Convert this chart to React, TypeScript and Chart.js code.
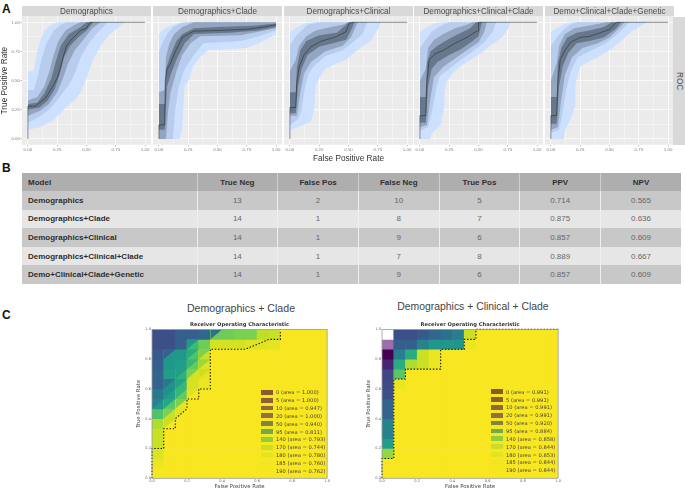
import React, { useEffect, useRef } from "react";
import { Chart, registerables } from "chart.js";

Chart.register(...registerables);

type Pt = [number, number];

/* ---------- Panel A: ROC curves with nested bands ---------- */
const rocTitles = ["Demographics", "Demographics+Clade", "Demographics+Clinical", "Demographics+Clinical+Clade", "Demo+Clinical+Clade+Genetic"];
const rocTickValues = [0, 0.125, 0.25, 0.375, 0.5, 0.625, 0.75, 0.875, 1];

const demoMedian: Pt[] = [[0,0],[0,.28],[.06,.28],[.1,.31],[.15,.35],[.2,.43],[.25,.52],[.28,.62],[.3,.7],[.33,.8],[.38,.86],[.45,.93],[.5,.95],[.53,1],[1,1]];
const demoOuterU: Pt[] = [[0,.58],[.05,.58],[.08,.75],[.1,.82],[.14,.93],[.2,.98],[.25,1],[1,1]];
const demoOuterL: Pt[] = [[0,.08],[.1,.1],[.2,.15],[.28,.22],[.32,.27],[.4,.33],[.45,.4],[.5,.52],[.55,.67],[.62,.8],[.7,.9],[.78,.96],[.82,1],[1,1]];
const demoMidU: Pt[] = [[0,.42],[.05,.42],[.08,.52],[.12,.7],[.16,.82],[.22,.93],[.28,.98],[.33,1],[1,1]];
const demoMidL: Pt[] = [[0,.14],[.1,.19],[.18,.25],[.25,.33],[.3,.4],[.35,.46],[.4,.56],[.45,.7],[.52,.82],[.6,.92],[.68,1],[1,1]];
const demoInnerU: Pt[] = [[0,.33],[.08,.36],[.14,.45],[.18,.57],[.22,.72],[.26,.84],[.32,.93],[.4,.98],[.45,1],[1,1]];
const demoInnerL: Pt[] = [[0,.2],[.1,.24],[.18,.3],[.25,.4],[.3,.52],[.34,.64],[.4,.76],[.48,.86],[.55,.95],[.62,1],[1,1]];
const demoCoreU: Pt[] = [[0,.3],[.08,.31],[.14,.39],[.2,.52],[.24,.67],[.28,.8],[.35,.9],[.45,.96],[.5,1],[1,1]];
const demoCoreL: Pt[] = [[0,.25],[.1,.27],[.17,.33],[.23,.43],[.27,.55],[.31,.7],[.36,.8],[.44,.88],[.5,.93],[.56,1],[1,1]];

const cladeMedian: Pt[] = [[0,0],[0,.12],[.05,.12],[.055,.5],[.07,.6],[.1,.65],[.14,.75],[.2,.87],[.25,.9],[.3,.925],[.5,.93],[.75,.94],[.9,.96],[1,.98]];
const cladeOuterU: Pt[] = [[0,.9],[.03,.93],[.07,.96],[.12,.98],[.2,1],[1,1]];
const cladeOuterL: Pt[] = [[0,0],[.18,0],[.2,.1],[.21,.3],[.22,.45],[.26,.51],[.29,.62],[.35,.7],[.42,.76],[.75,.78],[.85,.82],[.95,.87],[1,.9]];
const cladeMidU: Pt[] = [[0,.75],[.03,.82],[.07,.9],[.12,.96],[.18,.99],[.25,1],[1,1]];
const cladeMidL: Pt[] = [[0,0],[.12,0],[.14,.25],[.17,.45],[.22,.6],[.3,.72],[.38,.82],[.7,.84],[.85,.88],[1,.93]];
const cladeInnerU: Pt[] = [[0,.4],[.05,.42],[.06,.7],[.09,.82],[.13,.9],[.2,.96],[.3,1],[1,1]];
const cladeInnerL: Pt[] = [[0,0],[.06,0],[.08,.25],[.1,.4],[.15,.58],[.2,.72],[.27,.82],[.35,.88],[.7,.89],[.85,.92],[1,.95]];
const cladeCoreU: Pt[] = [[0,.3],[.05,.3],[.06,.6],[.1,.72],[.15,.84],[.2,.9],[.3,.95],[.5,.96],[.8,.97],[1,.99]];
const cladeCoreL: Pt[] = [[0,.08],[.05,.08],[.07,.45],[.1,.55],[.15,.68],[.22,.82],[.3,.9],[.6,.91],[.85,.93],[1,.96]];

const clinMedian: Pt[] = [[0,0],[0,.27],[.05,.27],[.06,.5],[.08,.62],[.12,.72],[.18,.79],[.27,.84],[.38,.87],[.48,.92],[.5,.98],[.53,1],[1,1]];
const clinOuterU: Pt[] = [[0,.92],[.05,.95],[.12,.99],[.2,1],[1,1]];
const clinOuterL: Pt[] = [[0,.07],[.07,.1],[.18,.15],[.21,.27],[.22,.45],[.25,.52],[.3,.6],[.38,.64],[.48,.68],[.6,.78],[.7,.85],[.76,.96],[.77,1],[1,1]];
const clinMidU: Pt[] = [[0,.8],[.05,.88],[.1,.93],[.15,.98],[.25,1],[1,1]];
const clinMidL: Pt[] = [[0,.12],[.07,.17],[.1,.25],[.13,.45],[.16,.56],[.2,.62],[.3,.71],[.45,.76],[.55,.84],[.62,.9],[.66,1],[1,1]];
const clinInnerU: Pt[] = [[0,.58],[.05,.68],[.08,.8],[.14,.88],[.22,.93],[.35,.96],[.45,.98],[.5,1],[1,1]];
const clinInnerL: Pt[] = [[0,.2],[.06,.2],[.09,.4],[.12,.56],[.18,.66],[.3,.75],[.45,.8],[.52,.87],[.58,1],[1,1]];
const clinCoreU: Pt[] = [[0,.4],[.05,.4],[.06,.62],[.09,.76],[.14,.84],[.25,.89],[.4,.91],[.47,.97],[.5,1],[1,1]];
const clinCoreL: Pt[] = [[0,.22],[.05,.22],[.07,.45],[.1,.6],[.15,.72],[.25,.79],[.4,.83],[.48,.85],[.53,.95],[.55,1],[1,1]];

const allMedian: Pt[] = [[0,0],[0,.2],[.05,.2],[.06,.5],[.08,.68],[.13,.73],[.2,.76],[.3,.82],[.4,.87],[.46,.91],[.5,.93],[.5,1],[1,1]];
const allOuterU: Pt[] = [[0,.92],[.05,.95],[.12,.99],[.2,1],[1,1]];
const allOuterL: Pt[] = [[0,0],[.09,0],[.1,.05],[.18,.12],[.21,.3],[.21,.4],[.23,.49],[.27,.55],[.33,.61],[.4,.66],[.5,.72],[.6,.8],[.7,.87],[.76,.96],[.77,1],[1,1]];
const allMidU: Pt[] = [[0,.78],[.05,.85],[.1,.92],[.16,.96],[.25,1],[1,1]];
const allMidL: Pt[] = [[0,.07],[.07,.1],[.1,.22],[.14,.43],[.17,.54],[.25,.6],[.35,.68],[.45,.75],[.55,.83],[.62,.92],[.65,1],[1,1]];
const allInnerU: Pt[] = [[0,.5],[.05,.6],[.07,.78],[.12,.85],[.2,.9],[.3,.95],[.4,.98],[.45,1],[1,1]];
const allInnerL: Pt[] = [[0,.1],[.06,.12],[.09,.35],[.12,.53],[.2,.62],[.3,.69],[.4,.76],[.5,.83],[.55,.92],[.57,1],[1,1]];
const allCoreU: Pt[] = [[0,.36],[.05,.36],[.06,.65],[.09,.75],[.15,.8],[.25,.86],[.35,.91],[.43,.95],[.48,1],[1,1]];
const allCoreL: Pt[] = [[0,.14],[.05,.14],[.07,.45],[.1,.6],[.15,.66],[.25,.72],[.35,.77],[.45,.84],[.5,.88],[.53,1],[1,1]];

const geneMedian: Pt[] = [[0,0],[0,.2],[.05,.2],[.06,.5],[.08,.68],[.12,.76],[.17,.83],[.25,.87],[.33,.88],[.42,.91],[.5,.94],[.56,1],[1,1]];
const geneOuterU: Pt[] = [[0,.92],[.05,.95],[.12,.99],[.18,1],[1,1]];
const geneOuterL: Pt[] = [[0,0],[.11,0],[.12,.07],[.18,.2],[.21,.3],[.21,.47],[.25,.62],[.3,.65],[.4,.7],[.5,.76],[.6,.84],[.7,.93],[.82,1],[1,1]];
const geneMidU: Pt[] = [[0,.8],[.05,.87],[.1,.93],[.16,.98],[.22,1],[1,1]];
const geneMidL: Pt[] = [[0,.05],[.07,.08],[.1,.22],[.13,.42],[.17,.58],[.23,.7],[.35,.76],[.47,.82],[.57,.9],[.67,1],[1,1]];
const geneInnerU: Pt[] = [[0,.5],[.05,.65],[.07,.8],[.12,.9],[.2,.95],[.32,.97],[.42,.99],[.47,1],[1,1]];
const geneInnerL: Pt[] = [[0,.08],[.06,.1],[.09,.35],[.12,.55],[.18,.7],[.27,.78],[.4,.82],[.5,.87],[.58,.95],[.63,1],[1,1]];
const geneCoreU: Pt[] = [[0,.36],[.05,.36],[.06,.65],[.09,.78],[.14,.87],[.22,.91],[.33,.93],[.45,.96],[.52,1],[1,1]];
const geneCoreL: Pt[] = [[0,.13],[.05,.13],[.07,.45],[.1,.62],[.15,.74],[.22,.82],[.33,.84],[.45,.87],[.55,.94],[.6,1],[1,1]];

const rocMedians = [demoMedian, cladeMedian, clinMedian, allMedian, geneMedian];
const rocBands: Pt[][][] = [
  [demoCoreU, demoCoreL, demoInnerU, demoInnerL, demoMidU, demoMidL, demoOuterU, demoOuterL],
  [cladeCoreU, cladeCoreL, cladeInnerU, cladeInnerL, cladeMidU, cladeMidL, cladeOuterU, cladeOuterL],
  [clinCoreU, clinCoreL, clinInnerU, clinInnerL, clinMidU, clinMidL, clinOuterU, clinOuterL],
  [allCoreU, allCoreL, allInnerU, allInnerL, allMidU, allMidL, allOuterU, allOuterL],
  [geneCoreU, geneCoreL, geneInnerU, geneInnerL, geneMidU, geneMidL, geneOuterU, geneOuterL],
];
const bandColors = ["#67788c", "#93a5c0", "#b8cdee", "#cde1ff"];

/* ---------- Panel B: table ---------- */
const tableHeader = ["Model", "True Neg", "False Pos", "False Neg", "True Pos", "PPV", "NPV"];
const tableRows = [
  ["Demographics", "13", "2", "10", "5", "0.714", "0.565"],
  ["Demographics+Clade", "14", "1", "8", "7", "0.875", "0.636"],
  ["Demographics+Clinical", "14", "1", "9", "6", "0.857", "0.609"],
  ["Demographics+Clinical+Clade", "14", "1", "7", "8", "0.889", "0.667"],
  ["Demo+Clinical+Clade+Genetic", "14", "1", "9", "6", "0.857", "0.609"],
];

/* ---------- Panel C: heat maps ---------- */
const thresholdCount = 15;
const cladeHeat = [
  [24,24,30,30,33,78,78,80,80,90,92,100,100,100,100],
  [24,24,30,68,78,94,94,94,96,96,97,100,100,100,100],
  [28,52,52,72,92,100,100,100,100,100,100,100,100,100,100],
  [30,52,55,76,96,100,100,100,100,100,100,100,100,100,100],
  [32,55,64,94,97,100,100,100,100,100,100,100,100,100,100],
  [32,50,66,94,98,100,100,100,100,100,100,100,100,100,100],
  [40,56,76,100,100,100,100,100,100,100,100,100,100,100,100],
  [52,74,97,100,100,100,100,100,100,100,100,100,100,100,100],
  [72,92,100,100,100,100,100,100,100,100,100,100,100,100,100],
  [88,100,100,100,100,100,100,100,100,100,100,100,100,100,100],
  [92,100,100,100,100,100,100,100,100,100,100,100,100,100,100],
  [92,100,100,100,100,100,100,100,100,100,100,100,100,100,100],
  [95,100,100,100,100,100,100,100,100,100,100,100,100,100,100],
  [98,100,100,100,100,100,100,100,100,100,100,100,100,100,100],
  [100,100,100,100,100,100,100,100,100,100,100,100,100,100,100],
];
/* [row, column, value of the cell's upper-left half] */
const cladeDiagonals: number[][] = [
  [0,5,36],[1,3,52],[2,1,30],[2,3,62],[2,4,80],[3,3,66],[3,4,85],[4,2,56],[4,3,80],[4,4,92],
  [5,1,40],[5,2,58],[6,1,50],[6,2,66],[6,3,95],[7,0,44],[7,1,60],[7,2,80],[8,1,80],[8,2,96],[9,1,92],
];
const clinCladeHeat = [
  [-2,24,24,28,33,36,42,92,100,100,100,100,100,100,100],
  [-1,30,30,44,52,52,52,98,100,100,100,100,100,100,100],
  [0,42,62,92,98,100,100,100,100,100,100,100,100,100,100],
  [10,62,88,92,98,100,100,100,100,100,100,100,100,100,100],
  [20,74,100,100,100,100,100,100,100,100,100,100,100,100,100],
  [22,98,100,100,100,100,100,100,100,100,100,100,100,100,100],
  [24,100,100,100,100,100,100,100,100,100,100,100,100,100,100],
  [32,100,100,100,100,100,100,100,100,100,100,100,100,100,100],
  [32,100,100,100,100,100,100,100,100,100,100,100,100,100,100],
  [44,100,100,100,100,100,100,100,100,100,100,100,100,100,100],
  [44,100,100,100,100,100,100,100,100,100,100,100,100,100,100],
  [55,100,100,100,100,100,100,100,100,100,100,100,100,100,100],
  [84,100,100,100,100,100,100,100,100,100,100,100,100,100,100],
  [100,100,100,100,100,100,100,100,100,100,100,100,100,100,100],
  [100,100,100,100,100,100,100,100,100,100,100,100,100,100,100],
];
const noDiagonals: number[][] = [];
const cladeBoundary: Pt[] = [[0,0],[0,.2],[.067,.2],[.067,.333],[.133,.333],[.133,.4],[.2,.467],[.2,.533],[.267,.533],[.267,.6],[.333,.6],[.333,.867],[.533,.867],[.6,.9],[.667,.933],[.733,.933],[.733,1]];
const clinCladeBoundary: Pt[] = [[0,0],[0,.133],[.067,.133],[.067,.667],[.133,.667],[.133,.733],[.333,.733],[.333,.867],[.467,.867],[.467,.933],[.533,.933],[.533,1],[1,1]];
const thresholds = ["0", "5", "10", "20", "50", "95", "140", "170", "180", "185", "190"];
const cladeAreas = ["1.000", "1.000", "0.947", "1.000", "0.940", "0.811", "0.793", "0.744", "0.780", "0.760", "0.762"];
const clinCladeAreas = ["0.991", "0.991", "0.991", "0.991", "0.920", "0.884", "0.858", "0.844", "0.853", "0.844", "0.844"];
const legendSwatches = ["#8a5a2b", "#8c6030", "#8f6a38", "#8f7040", "#808440", "#6fa950", "#8fcf3f", "#cbdd24", "#e3e31f", "#f0e720", "#f8e620"];

const viridisStops = ["#440154", "#482475", "#414487", "#355f8d", "#2a788e", "#21918c", "#22a884", "#44bf70", "#7ad151", "#bddf26", "#f8e620"];
function viridis(v: number): string {
  if (v === -2) return "#ffffff";
  if (v === -1) return "#9b6fa9";
  const p = Math.min(9.999, v / 10);
  const i = Math.floor(p);
  const t = p - i;
  const a = parseInt(viridisStops[i].slice(1), 16);
  const b = parseInt(viridisStops[i + 1].slice(1), 16);
  const ch = (s: number) => Math.round(((a >> s) & 255) * (1 - t) + ((b >> s) & 255) * t);
  return `rgb(${ch(16)},${ch(8)},${ch(0)})`;
}

const SANS = "'Liberation Sans', Arial, sans-serif";
const DEJA = "'DejaVu Sans', sans-serif";

const stripPlugin = {
  id: "strip",
  beforeDraw(chart: any) {
    const { ctx, chartArea: a } = chart;
    ctx.save();
    ctx.fillStyle = "#d9d9d9";
    ctx.fillRect(a.left, 0, a.right - a.left, a.top);
    ctx.fillStyle = "#ebebeb";
    ctx.fillRect(a.left, a.top, a.right - a.left, a.bottom - a.top);
    ctx.restore();
  },
};

const framePlugin = {
  id: "frame",
  afterDraw(chart: any) {
    const { ctx, chartArea: a } = chart;
    ctx.save();
    ctx.strokeStyle = "#9a9a9a";
    ctx.lineWidth = 0.8;
    ctx.strokeRect(a.left, a.top, a.right - a.left, a.bottom - a.top);
    ctx.restore();
  },
};

function toXY(pts: Pt[]) {
  return pts.map(([x, y]) => ({ x, y }));
}

function RocPanel({ index, left, width, yAxisWidth }: { index: number; left: number; width: number; yAxisWidth: number }) {
  const ref = useRef<HTMLCanvasElement>(null);
  useEffect(() => {
    const isMajor = (v: number) => Math.abs(v * 4 - Math.round(v * 4)) < 1e-6;
    const datasets: any[] = [
      { data: toXY(rocMedians[index]), showLine: true, borderColor: "rgba(30,30,30,0.62)", borderWidth: 0.8, pointRadius: 0, fill: false, tension: 0 },
    ];
    rocBands[index].forEach((pts, i) => {
      const isUpper = i % 2 === 0;
      datasets.push({
        data: toXY(pts),
        showLine: true,
        borderWidth: 0,
        borderColor: "transparent",
        pointRadius: 0,
        tension: 0,
        fill: isUpper ? "+1" : false,
        backgroundColor: bandColors[i >> 1],
      });
    });
    const chart = new Chart(ref.current as any, {
      type: "scatter",
      data: { datasets },
      plugins: [stripPlugin],
      options: {
        responsive: false,
        animation: false,
        layout: { padding: 0 },
        plugins: {
          legend: { display: false },
          tooltip: { enabled: false },
          title: {
            display: true,
            text: rocTitles[index],
            fullSize: false,
            color: "#4d4d4d",
            padding: 0,
            font: { family: SANS, size: 8.2, weight: "normal", lineHeight: 1.28 },
          },
        },
        scales: {
          x: {
            type: "linear",
            min: -0.05,
            max: 1.05,
            afterBuildTicks: (s: any) => { s.ticks = rocTickValues.map((value) => ({ value })); },
            afterFit: (s: any) => { s.height = 19.2; },
            border: { display: false },
            grid: {
              color: "#ffffff",
              lineWidth: (c: any) => (isMajor(c.tick?.value ?? 0) ? 0.7 : 0.35),
              tickColor: (c: any) => (isMajor(c.tick?.value ?? 0) ? "#555" : "transparent"),
              tickLength: 1.5,
              tickWidth: 0.4,
            },
            ticks: {
              autoSkip: false,
              maxRotation: 0,
              minRotation: 0,
              padding: 0.5,
              color: "#808080",
              font: { family: SANS, size: 4.4 },
              callback: (v: any) => (isMajor(+v) ? (+v).toFixed(2) : ""),
            },
            title: {
              display: index === 2,
              text: "False Positive Rate",
              color: "#333",
              padding: 0,
              font: { family: SANS, size: 8.25, lineHeight: 1.2 },
            },
          },
          y: {
            type: "linear",
            min: -0.05,
            max: 1.05,
            afterBuildTicks: (s: any) => { s.ticks = rocTickValues.map((value) => ({ value })); },
            afterFit: (s: any) => { s.width = yAxisWidth; },
            border: { display: false },
            grid: {
              color: "#ffffff",
              lineWidth: (c: any) => (isMajor(c.tick?.value ?? 0) ? 0.7 : 0.35),
              tickColor: (c: any) => (isMajor(c.tick?.value ?? 0) ? "#555" : "transparent"),
              tickLength: yAxisWidth > 0 ? 1.5 : 0,
              tickWidth: 0.4,
            },
            ticks: {
              display: yAxisWidth > 0,
              autoSkip: false,
              padding: 0.5,
              color: "#808080",
              font: { family: SANS, size: 4.4 },
              callback: (v: any) => (isMajor(+v) ? (+v).toFixed(2) : ""),
            },
            title: {
              display: yAxisWidth > 0,
              text: "True Positive Rate",
              color: "#333",
              padding: 0,
              font: { family: SANS, size: 8.25, lineHeight: 1.2 },
            },
          },
        },
      },
    } as any);
    return () => chart.destroy();
  }, [index, yAxisWidth]);
  return (
    <canvas
      ref={ref}
      width={width}
      height={158}
      style={{ position: "absolute", left, top: 6, width, height: 158, display: "block" }}
    />
  );
}

function HeatPanel({ matrix, diagonals, boundary, left, plotWidth }: { matrix: number[][]; diagonals: number[][]; boundary: Pt[]; left: number; plotWidth: number }) {
  const ref = useRef<HTMLCanvasElement>(null);
  useEffect(() => {
    const step = 1 / thresholdCount;
    const datasets: any[] = [
      {
        type: "scatter",
        data: toXY(boundary),
        showLine: true,
        borderColor: "#111",
        borderWidth: 1.1,
        borderDash: [1.4, 1.8],
        pointRadius: 0,
        tension: 0,
        fill: false,
        order: 0,
        clip: false,
      },
    ];
    diagonals.forEach(([r, c, v]) => {
      const hi = 1 - r * step;
      const lo = 1 - (r + 1) * step;
      const x0 = c * step;
      const x1 = (c + 1) * step;
      const common = { type: "scatter", showLine: true, borderWidth: 0, borderColor: "transparent", pointRadius: 0, tension: 0, order: 1 };
      datasets.push({ ...common, data: [{ x: x0, y: hi }, { x: x1, y: hi }], fill: "+1", backgroundColor: viridis(v) });
      datasets.push({ ...common, data: [{ x: x0, y: lo }, { x: x1, y: hi }], fill: false });
    });
    matrix.forEach((row, r) => {
      const hi = 1 - r * step;
      const lo = 1 - (r + 1) * step;
      datasets.push({
        type: "bar",
        order: 2,
        grouped: false,
        barPercentage: 1,
        categoryPercentage: 1,
        borderWidth: 0,
        backgroundColor: row.map(viridis),
        data: row.map((_, c) => ({ x: (c + 0.5) * step, y: [lo, hi] })),
      });
    });
    const chart = new Chart(ref.current as any, {
      type: "bar",
      data: { datasets },
      plugins: [framePlugin],
      options: {
        responsive: false,
        animation: false,
        layout: { padding: { right: 1 } },
        plugins: {
          legend: { display: false },
          tooltip: { enabled: false },
          title: {
            display: true,
            text: "Receiver Operating Characteristic",
            fullSize: false,
            color: "#333",
            padding: 0,
            font: { family: DEJA, size: 5.2, weight: "bold", lineHeight: 2 },
          },
        },
        scales: {
          x: {
            type: "linear",
            min: 0,
            max: 1,
            offset: false,
            afterFit: (s: any) => { s.height = 11.7; },
            border: { display: false },
            grid: { display: false, drawTicks: false },
            ticks: { stepSize: 0.2, padding: 1, color: "#666", maxRotation: 0, font: { family: DEJA, size: 3.6 }, callback: (v: any) => (+v).toFixed(1) },
            title: { display: true, text: "False Positive Rate", color: "#444", padding: 0, font: { family: DEJA, size: 5.4, lineHeight: 1.1 } },
          },
          y: {
            type: "linear",
            min: 0,
            max: 1,
            afterFit: (s: any) => { s.width = 22; },
            border: { display: false },
            grid: { display: false, drawTicks: false },
            ticks: { stepSize: 0.2, padding: 1, color: "#666", font: { family: DEJA, size: 3.6 }, callback: (v: any) => (+v).toFixed(1) },
            title: { display: true, text: "True Positive Rate", color: "#444", padding: { top: 6, bottom: 0 }, font: { family: DEJA, size: 5.4, lineHeight: 1.1 } },
          },
        },
      },
    } as any);
    return () => chart.destroy();
  }, [matrix, diagonals, boundary]);
  const w = plotWidth + 23;
  return (
    <canvas
      ref={ref}
      width={w}
      height={171}
      style={{ position: "absolute", left, top: 319, width: w, height: 171, display: "block" }}
    />
  );
}

function HeatLegend({ areas, swatchLeft, top }: { areas: string[]; swatchLeft: number; top: number }) {
  return (
    <>
      {thresholds.map((t, i) => (
        <React.Fragment key={t}>
          {i < 10 && (
            <div style={{ position: "absolute", left: swatchLeft, top: top + i * 7.85 - 2.4, width: 11.5, height: 4.8, background: legendSwatches[i] }} />
          )}
          <div
            style={{
              position: "absolute",
              left: swatchLeft + 15,
              top: top + i * 7.85 - 4,
              height: 8,
              lineHeight: "8px",
              fontFamily: DEJA,
              fontSize: 5.15,
              color: "#444",
              whiteSpace: "nowrap",
            }}
          >
            {`${t} (area = ${areas[i]})`}
          </div>
        </React.Fragment>
      ))}
    </>
  );
}

function Letter({ text, top }: { text: string; top: number }) {
  return (
    <div style={{ position: "absolute", left: 2, top, fontFamily: SANS, fontWeight: "bold", fontSize: 12, lineHeight: "12px", color: "#111" }}>{text}</div>
  );
}

export default function App() {
  const panelLefts = [0, 153, 284, 414, 545];
  const colWidths = [175, 80.7, 80.7, 80.7, 80.7, 80.7, 80.4];
  return (
    <div style={{ position: "absolute", left: 0, top: 0, width: 685, height: 490, overflow: "hidden", background: "#fff", filter: "blur(0.4px)" }}>
      <Letter text="A" top={3} />
      <Letter text="B" top={162} />
      <Letter text="C" top={309} />

      {panelLefts.map((l, i) => (
        <RocPanel key={i} index={i} left={l} width={i === 0 ? 151 : 129} yAxisWidth={i === 0 ? 22 : 0} />
      ))}
      <div style={{ position: "absolute", left: 673, top: 17, width: 12, height: 128, background: "#d9d9d9" }}>
        <div
          style={{
            position: "absolute",
            left: 0,
            top: 0,
            width: 12,
            height: 128,
            display: "flex",
            alignItems: "center",
            justifyContent: "center",
            writingMode: "vertical-rl",
            fontFamily: SANS,
            fontSize: 8.2,
            color: "#4d4d4d",
          }}
        >
          ROC
        </div>
      </div>

      <table
        style={{
          position: "absolute",
          left: 22,
          top: 173,
          width: 659,
          height: 111,
          borderCollapse: "collapse",
          tableLayout: "fixed",
          fontFamily: SANS,
          fontSize: 8,
        }}
      >
        <colgroup>
          {colWidths.map((w, i) => (
            <col key={i} style={{ width: w }} />
          ))}
        </colgroup>
        <tbody>
          <tr style={{ height: 18, background: "#aeaeae" }}>
            {tableHeader.map((h, i) => (
              <td key={h} style={{ padding: i === 0 ? "0 0 0 6px" : 0, textAlign: i === 0 ? "left" : "center", fontWeight: "bold", color: "#2e2e2e", borderLeft: i ? "1px solid #cfcfcf" : "none" }}>
                {h}
              </td>
            ))}
          </tr>
          {tableRows.map((row, r) => (
            <tr key={r} style={{ height: 18.6, background: r % 2 === 0 ? "#c8c8c8" : "#e6e6e6" }}>
              {row.map((cell, i) => (
                <td key={i} style={{ padding: i === 0 ? "0 0 0 6px" : 0, textAlign: i === 0 ? "left" : "center", fontWeight: i === 0 ? "bold" : "normal", color: i === 0 ? "#2e2e2e" : "#666", borderLeft: i ? "1px solid #efefef" : "none" }}>
                  {cell}
                </td>
              ))}
            </tr>
          ))}
        </tbody>
      </table>

      <div style={{ position: "absolute", left: 141, width: 200, top: 301, textAlign: "center", fontFamily: SANS, fontSize: 10.6, lineHeight: "14px", color: "#444" }}>
        Demographics + Clade
      </div>
      <div style={{ position: "absolute", left: 373, width: 200, top: 300, textAlign: "center", fontFamily: SANS, fontSize: 10.4, lineHeight: "14px", color: "#444" }}>
        Demographics + Clinical + Clade
      </div>

      <HeatPanel matrix={cladeHeat} diagonals={cladeDiagonals} boundary={cladeBoundary} left={130} plotWidth={178} />
      <HeatPanel matrix={clinCladeHeat} diagonals={noDiagonals} boundary={clinCladeBoundary} left={360} plotWidth={179} />
      <HeatLegend areas={cladeAreas} swatchLeft={261} top={392.3} />
      <HeatLegend areas={clinCladeAreas} swatchLeft={491} top={391.7} />
    </div>
  );
}
